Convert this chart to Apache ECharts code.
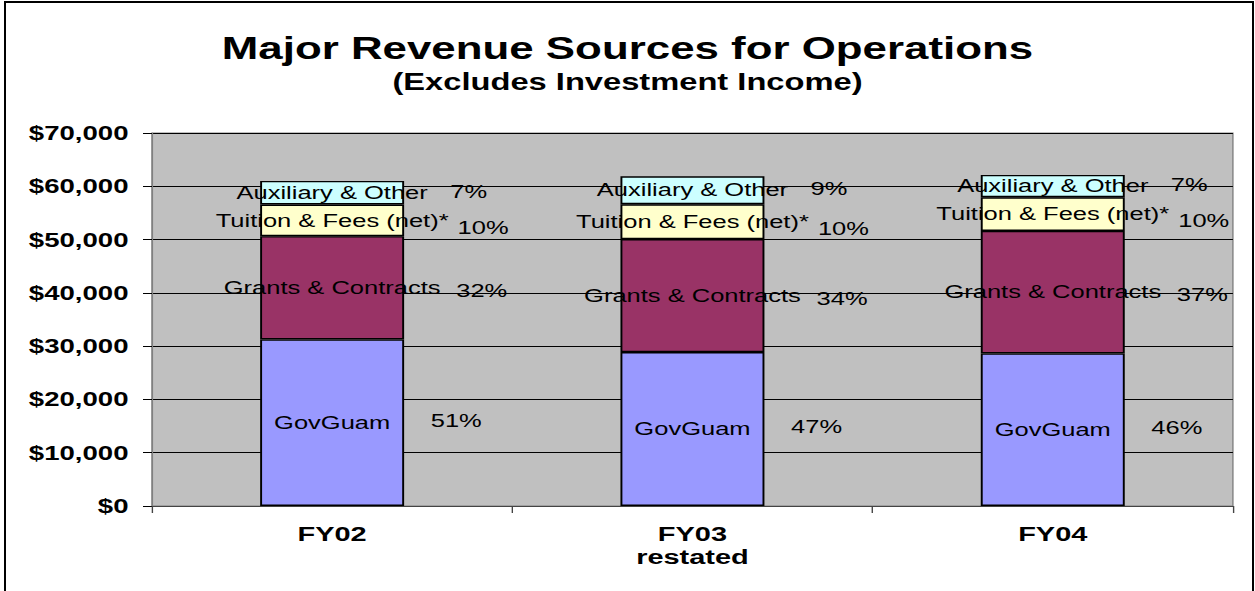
<!DOCTYPE html>
<html lang="en">

<head>
    <meta charset="UTF-8">
    <title>Major Revenue Sources for Operations</title>
    <style>
        body { margin: 0; background: #fff; overflow: hidden; }
        #frame { position: absolute; left: 4px; top: 1px; width: 1250px; height: 700px; box-sizing: border-box; border: 2px solid #000; }
        /* the source picture is stretched sideways, so the chart is too */
        #main { position: absolute; left: 0; top: 0; width: 910px; height: 591px; transform: scaleX(1.3791); transform-origin: 0 0; }
    </style>
</head>

<body>
    <div id="frame"></div>
    <div id="main"></div>
    <script src="https://cdn.jsdelivr.net/npm/echarts@6/dist/echarts.min.js"></script>
    <script type="text/javascript">

        var years = ['FY02', 'FY03\nrestated', 'FY04'];

        // $ thousands
        var govGuam = [31260, 28880, 28630];
        var grants = [19370, 21190, 23000];
        var tuition = [5950, 6560, 6310];
        var auxiliary = [4430, 5250, 4190];

        // share labels as printed on the chart
        var govGuamPct = ['51%', '47%', '46%'];
        var grantsPct = ['32%', '34%', '37%'];
        var tuitionPct = ['10%', '10%', '10%'];
        var auxiliaryPct = ['7%', '9%', '7%'];

        var chartDom = document.getElementById('main');
        var myChart = echarts.init(chartDom, null, { renderer: 'svg' });

        // name centred on the segment, percent to the right of it
        function segment(name, values, pcts, color, nameWidth, dy) {
            return {
                name: name,
                type: 'bar',
                stack: 'rev',
                barWidth: 104.4,
                data: values,
                itemStyle: { color: color, borderColor: '#000', borderWidth: 1.4 },
                label: {
                    show: true,
                    position: 'inside',
                    offset: [30, 0],
                    overflow: 'none',
                    formatter: function (p) {
                        return '{n|' + name + '}{p|' + pcts[p.dataIndex] + '}';
                    },
                    rich: {
                        n: { width: nameWidth, align: 'center', fontSize: 18.5, color: '#000', fontFamily: 'Liberation Sans' },
                        p: {
                            width: 60, align: 'left', fontSize: 18.5, color: '#000', fontFamily: 'Liberation Sans',
                            padding: dy > 0 ? [dy * 2, 0, 0, 0] : [0, 0, -dy * 2, 0]
                        }
                    }
                },
                emphasis: { disabled: true }
            };
        }

        var option = {
            animation: false,
            textStyle: { fontFamily: 'Liberation Sans' },
            title: [
                {
                    text: 'Major Revenue Sources for Operations',
                    left: 'center',
                    top: 27,
                    textStyle: { fontSize: 31.8, fontWeight: 'bold', color: '#000' }
                },
                {
                    text: '(Excludes Investment Income)',
                    left: 'center',
                    top: 65,
                    textStyle: { fontSize: 23.7, fontWeight: 'bold', color: '#000' }
                }
            ],
            grid: {
                left: 110.2,
                right: 16,
                top: 133,
                bottom: 85,
                show: true,
                backgroundColor: '#C0C0C0',
                borderColor: '#808080',
                borderWidth: 1
            },
            xAxis: {
                type: 'category',
                data: years,
                axisLine: { lineStyle: { color: '#444', width: 1 } },
                axisTick: { show: true, length: 7, lineStyle: { color: '#444' } },
                axisLabel: {
                    margin: 16,
                    fontSize: 21,
                    fontWeight: 'bold',
                    color: '#000',
                    lineHeight: 23
                }
            },
            yAxis: {
                type: 'value',
                min: 0,
                max: 70000,
                interval: 10000,
                axisLine: { show: true, lineStyle: { color: '#808080' } },
                axisTick: { show: true, length: 6.5, lineStyle: { color: '#000' } },
                splitLine: { lineStyle: { color: '#000', width: 1 } },
                axisLabel: {
                    margin: 17,
                    fontSize: 20,
                    fontWeight: 'bold',
                    color: '#000',
                    formatter: function (v) {
                        return '$' + v.toLocaleString('en-US');
                    }
                }
            },
            series: [
                segment('GovGuam', govGuam, govGuamPct, '#9999FF', 120, -2),
                segment('Grants & Contracts', grants, grantsPct, '#993366', 157, 3),
                segment('Tuition & Fees (net)*', tuition, tuitionPct, '#FFFFCC', 159, 7),
                segment('Auxiliary & Other', auxiliary, auxiliaryPct, '#CCFFFF', 138, -1)
            ]
        };

        option && myChart.setOption(option);

    </script>
</body>

</html>
